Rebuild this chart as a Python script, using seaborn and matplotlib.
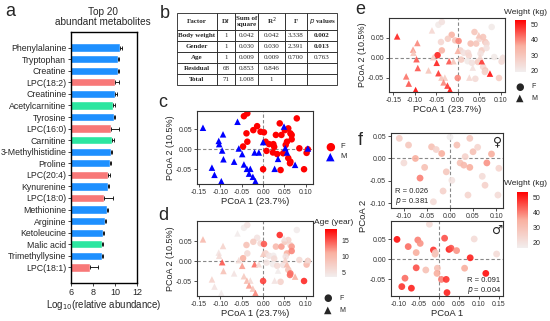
import matplotlib
matplotlib.use("Agg")
import matplotlib.pyplot as plt
import seaborn as sns
import numpy as np
import pandas as pd
from matplotlib.colors import LinearSegmentedColormap, Normalize
from matplotlib.cm import ScalarMappable

# ---- panel a data ----
metabolites = ["Phenylalanine", "Tryptophan", "Creatine", "LPC(18:2)", "Creatinine",
               "Acetylcarnitine", "Tyrosine", "LPC(16:0)", "Carnitine", "3-Methylhistidine",
               "Proline", "LPC(20:4)", "Kynurenine", "LPC(18:0)", "Methionine",
               "Arginine", "Ketoleucine", "Malic acid", "Trimethyllysine", "LPC(18:1)"]
abundance = [10.46, 10.28, 10.28, 9.97, 10.03, 9.85, 9.88, 9.6, 9.75, 9.6,
             9.57, 9.35, 9.35, 8.98, 9.23, 9.08, 8.92, 8.83, 8.83, 7.7]
abundance_err = [0.15, 0.12, 0.12, 0.4, 0.12, 0.12, 0.1, 0.74, 0.12, 0.12,
                 0.1, 0.15, 0.12, 0.86, 0.12, 0.12, 0.12, 0.12, 0.12, 0.74]
met_class = ["aa", "aa", "aa", "lpc", "aa", "car", "aa", "lpc", "car", "aa",
             "aa", "lpc", "aa", "lpc", "aa", "aa", "aa", "car", "aa", "lpc"]

# ---- panel b data ----
tab_cols = ["Factor", "Df", "Sum of\nsquare", "R$^2$", "F", "$\\it{p}$ values"]
tab_factor = ["Body weight", "Gender", "Age", "Residual", "Total"]
tab_df = ["1", "1", "1", "68", "71"]
tab_ss = ["0.042", "0.030", "0.009", "0.853", "1.008"]
tab_r2 = ["0.042", "0.030", "0.009", "0.846", "1"]
tab_f = ["3.338", "2.391", "0.700", "", ""]
tab_p = ["0.002", "0.013", "0.763", "", ""]

# ---- panels c, d, e data (same PCoA, females / males) ----
pc1_f = [-0.045, -0.037, -0.014, -0.023, -0.006, 0.002, -0.039, -0.037, -0.047, 0.006,
         0.014, 0.024, 0.026, 0.039, 0.030, 0.043, 0.051, 0.064, 0.056, 0.053,
         0.023, 0.033, 0.047, 0.059, 0.064, 0.041, 0.0, 0.008, 0.079, 0.059,
         0.067, 0.067, 0.085, 0.105, 0.102, 0.063, 0.096]
pc2_f = [0.083, 0.090, 0.058, 0.048, 0.044, 0.0425, 0.040, 0.019, 0.007, 0.019,
         0.013, 0.013, 0.006, 0.065, 0.036, 0.036, 0.048, 0.040, 0.019, 0.011,
         -0.008, -0.012, -0.010, -0.022, -0.031, -0.052, -0.050, -0.004, 0.0775, 0.0525,
         0.036, 0.025, 0.0025, 0.0, -0.009, -0.035, -0.050]
age_f = [4, 5, 5, 8, 6, 15, 9, 6, 11, 7,
         5, 4, 6, 17, 10, 12, 8, 6, 11, 5,
         4, 6, 5, 9, 14, 7, 16, 5, 4, 7,
         12, 13, 6, 8, 10, 14, 17]
wt_f = [20, 22, 35, 28, 30, 40, 25, 35, 50, 26,
        22, 24, 25, 30, 32, 30, 25, 30, 28, 22,
        20, 22, 28, 25, 30, 24, 40, 28, 20, 30,
        25, 22, 20, 22, 24, 26, 28]

pc1_m = [-0.141, -0.060, -0.094, -0.104, -0.103, -0.096, -0.093, -0.057, -0.049, -0.068,
         -0.020, -0.010, 0.0, -0.120, -0.114, -0.098, -0.045, -0.038, -0.030, -0.033,
         -0.024, -0.018, 0.027, 0.035, 0.049, 0.056, 0.075, 0.105, 0.052]
pc2_m = [0.054, 0.069, 0.0375, 0.021, 0.013, -0.003, -0.025, 0.002, -0.012, -0.031,
         -0.008, -0.008, 0.018, -0.046, -0.064, -0.080, -0.038, -0.049, -0.049, -0.061,
         -0.069, -0.080, -0.049, -0.024, 0.057, -0.008, -0.039, 0.002, 0.003]
age_m = [10, 4, 7, 5, 6, 15, 9, 6, 12, 5,
         14, 6, 8, 7, 5, 4, 8, 10, 6, 12,
         9, 13, 5, 4, 5, 10, 11, 6, 7]
wt_m = [50, 25, 40, 38, 30, 45, 45, 28, 50, 30,
        45, 30, 35, 42, 45, 52, 48, 30, 28, 40,
        48, 52, 25, 22, 30, 48, 52, 22, 25]

# ---- panel f data (separate PCoA per sex) ----
f_pc1_f = [-0.040, -0.018, 0.0, 0.043, 0.033, 0.050, -0.036, -0.015, 0.004, 0.076,
           0.104, 0.039, 0.022, 0.030, 0.043, 0.080, 0.106, -0.065, -0.090, -0.100,
           -0.075, -0.055, -0.030, -0.008, 0.015, 0.060, 0.090, -0.110, 0.070]
f_pc2_f = [0.026, 0.011, 0.048, 0.045, 0.004, 0.015, -0.097, -0.073, -0.049, -0.060,
           -0.082, -0.082, -0.010, -0.015, -0.020, -0.010, -0.022, -0.044, 0.030, -0.010,
           0.000, -0.020, 0.020, -0.030, 0.030, 0.025, 0.010, 0.045, -0.040]
f_wt_f = [30, 35, 15, 28, 25, 30, 22, 25, 20, 25,
          22, 24, 30, 32, 35, 38, 24, 40, 28, 22,
          35, 30, 25, 28, 30, 24, 35, 26, 22]
f_pc1_m = [-0.024, 0.014, 0.088, -0.014, -0.010, -0.009, 0.025, 0.030, 0.044, 0.078,
           0.064, 0.144, 0.117, -0.004, -0.005, 0.006, 0.018, 0.020, -0.033, -0.105,
           -0.077, -0.053, -0.047, -0.057, -0.057, -0.085, -0.093, -0.069]
f_pc2_m = [0.087, 0.052, 0.050, 0.0225, 0.012, 0.016, 0.024, 0.027, 0.021, 0.003,
           -0.023, 0.0125, -0.036, -0.023, -0.036, -0.051, -0.051, -0.084, -0.0275, 0.049,
           0.031, 0.0475, 0.039, 0.016, -0.022, -0.048, -0.069, -0.073]
f_wt_m = [22, 45, 22, 48, 30, 28, 50, 45, 38, 50,
          35, 22, 52, 30, 35, 40, 48, 50, 30, 52,
          42, 40, 38, 35, 45, 42, 48, 50]

W, H = 550, 321
sns.set_style("ticks")
plt.rcParams['font.family'] = ['Liberation Sans', 'DejaVu Sans']
plt.rcParams['axes.linewidth'] = 0.7
plt.rcParams['xtick.major.width'] = 0.6
plt.rcParams['ytick.major.width'] = 0.6
plt.rcParams['xtick.major.size'] = 2
plt.rcParams['ytick.major.size'] = 2
plt.rcParams['xtick.major.pad'] = 1.5
plt.rcParams['ytick.major.pad'] = 1.5

fig = plt.figure(figsize=(W / 100, H / 100), dpi=100)
fig.patch.set_facecolor("white")


def px_axes(l, t, r, b):
    return fig.add_axes([l / W, 1 - b / H, (r - l) / W, (b - t) / H])


def letter(x, y, s):
    fig.text(x / W, 1 - y / H, s, fontsize=13, ha="center", va="center")


# ---------------- a: bar chart ----------------
ax = px_axes(71, 32, 137, 283)
bar_df = pd.DataFrame({"name": metabolites, "value": abundance, "err": abundance_err, "cls": met_class})
pal = {"aa": "#1E90FF", "lpc": "#F87878", "car": "#2CE6A0"}
sns.barplot(data=bar_df, x="value", y="name", hue="cls", palette=pal, dodge=False,
            width=0.72, legend=False, ax=ax, saturation=1)
ax.errorbar(bar_df["value"], np.arange(len(bar_df)), xerr=[np.zeros(len(bar_df)), bar_df["err"]],
            fmt="none", ecolor="black", elinewidth=0.6, capsize=1.5, capthick=0.6)
ax.set_xlim(6, 12)
ax.set_xticks([6, 8, 10, 12])
ax.set_ylabel("")
ax.set_xlabel("Log$_{10}$(relative abundance)", fontsize=7, labelpad=1)
ax.tick_params(axis="y", labelsize=6.3)
ax.tick_params(axis="x", labelsize=6.5)
for sp in ax.spines.values():
    sp.set_visible(True)
    sp.set_color("black")
    sp.set_linewidth(1.0)
fig.text(103 / W, 1 - 17 / H, "Top 20\nabundant metabolites", fontsize=7.2, ha="center", va="center",
         linespacing=1.1)
letter(10, 12, "a")

# ---------------- b: table ----------------
tax = px_axes(177, 13, 337, 85)
tax.axis("off")
cell_text = [list(r) for r in zip(tab_factor, tab_df, tab_ss, tab_r2, tab_f, tab_p)]
tbl = tax.table(cellText=cell_text, colLabels=tab_cols, bbox=[0, 0, 1, 1],
                colWidths=[40, 18, 23, 27, 22, 30], cellLoc="center")
tbl.auto_set_font_size(False)
for (r, c), cell in tbl.get_celld().items():
    cell.set_linewidth(0.6)
    cell.set_edgecolor("#222222")
    cell.set_height(17 if r == 0 else 11)
    cell.get_text().set_fontfamily("Liberation Serif")
    cell.get_text().set_fontsize(5)
    if r == 0 or c == 0 or (c == 5 and r in (1, 2)):
        cell.get_text().set_fontweight("bold")
letter(165, 13, "b")

# ---------------- c, d, e: shared PCoA ----------------
pcoa = pd.DataFrame({
    "pc1": pc1_f + pc1_m,
    "pc2": pc2_f + pc2_m,
    "sex": ["F"] * len(pc1_f) + ["M"] * len(pc1_m),
    "age": age_f + age_m,
    "weight": wt_f + wt_m,
})
cmap = LinearSegmentedColormap.from_list("wr", ["#F2EEEE", "#F9B0A0", "#FF0000"])
markers = {"F": "o", "M": "^"}


def style_pcoa(a, xlim, ylim, xt, yt, xlabel, ylabel):
    a.axhline(0, color="#888888", lw=0.8, ls=(0, (3, 2)), zorder=0)
    a.axvline(0, color="#888888", lw=0.8, ls=(0, (3, 2)), zorder=0)
    a.set_xlim(*xlim)
    a.set_ylim(*ylim)
    a.set_xticks(xt)
    a.set_yticks(yt)
    a.set_xticklabels(["%.2f" % v for v in xt])
    a.set_yticklabels(["%.2f" % v for v in yt])
    a.tick_params(labelsize=5, colors="#333333")
    a.set_xlabel(xlabel, fontsize=6.8, labelpad=1)
    a.set_ylabel(ylabel, fontsize=6.5, labelpad=1)
    for sp in a.spines.values():
        sp.set_visible(True)
        sp.set_color("#333333")
        sp.set_linewidth(0.8)


xt_cd = [-0.15, -0.10, -0.05, 0.00, 0.05, 0.10]
yt_cd = [-0.05, 0.00, 0.05]

ax_c = px_axes(197, 111, 313, 184)
sns.scatterplot(data=pcoa, x="pc1", y="pc2", hue="sex", style="sex", markers=markers,
                palette={"F": "#FF0000", "M": "#0000FF"}, s=22, linewidth=0, legend=False, ax=ax_c)
style_pcoa(ax_c, (-0.155, 0.117), (-0.087, 0.096), xt_cd, yt_cd, "PCoA 1 (23.7%)", "PCoA 2 (10.5%)")
letter(163, 103, "c")
fig.text(330 / W, 1 - 147 / H, "\u25CF", color="#FF0000", fontsize=8, ha="center", va="center",
         family=["DejaVu Sans"])
fig.text(330 / W, 1 - 157 / H, "\u25B2", color="#0000FF", fontsize=8, ha="center", va="center",
         family=["DejaVu Sans"])
fig.text(340 / W, 1 - 147 / H, "F", fontsize=5.5, ha="left", va="center")
fig.text(340 / W, 1 - 157 / H, "M", fontsize=5.5, ha="left", va="center")

ax_d = px_axes(197, 221, 313, 296)
sns.scatterplot(data=pcoa, x="pc1", y="pc2", hue="age", style="sex", markers=markers,
                palette=cmap, hue_norm=(3.7, 18.7), s=22, linewidth=0, alpha=0.9, legend=False, ax=ax_d)
style_pcoa(ax_d, (-0.155, 0.117), (-0.0875, 0.1), xt_cd, yt_cd, "PCoA 1 (23.7%)", "PCoA 2 (10.5%)")
letter(163, 215, "d")

ax_e = px_axes(389, 18, 505, 92)
sns.scatterplot(data=pcoa, x="pc1", y="pc2", hue="weight", style="sex", markers=markers,
                palette=cmap, hue_norm=(18.7, 53.3), s=22, linewidth=0, alpha=0.9, legend=False, ax=ax_e)
style_pcoa(ax_e, (-0.16, 0.11), (-0.085, 0.10), xt_cd, yt_cd, "PCoA 1 (23.7%)", "PCoA 2 (10.5%)")
letter(360, 10, "e")


def colorbar(l, t, r, b, vmin, vmax, ticks, title, tx, ty):
    cax = px_axes(l, t, r, b)
    cb = fig.colorbar(ScalarMappable(Normalize(vmin, vmax), cmap), cax=cax, ticks=ticks)
    cb.outline.set_visible(False)
    cax.tick_params(labelsize=5, length=2, color="white", width=0.6)
    fig.text(tx / W, 1 - ty / H, title, fontsize=6, ha="center", va="center")


def shape_legend(x, y1, y2):
    fig.text(x / W, 1 - y1 / H, "\u25CF", fontsize=7, ha="center", va="center", family=["DejaVu Sans"])
    fig.text(x / W, 1 - y2 / H, "\u25B2", fontsize=7, ha="center", va="center", family=["DejaVu Sans"])
    fig.text((x + 11) / W, 1 - y1 / H, "F", fontsize=5, ha="left", va="center")
    fig.text((x + 11) / W, 1 - y2 / H, "M", fontsize=5, ha="left", va="center")


colorbar(325, 229, 337, 277, 3.7, 18.7, [5, 10, 15], "Age (year)", 334, 222)
shape_legend(328, 298, 310)
colorbar(515, 20, 526, 72, 18.7, 53.3, [20, 30, 40, 50], "Weight (kg)", 526, 12)
shape_legend(520, 87, 98)

# ---------------- f: per-sex PCoA ----------------
ax_f1 = px_axes(391, 133, 503, 208)
fem = pd.DataFrame({"pc1": f_pc1_f, "pc2": f_pc2_f, "weight": f_wt_f})
sns.scatterplot(data=fem, x="pc1", y="pc2", hue="weight", palette=cmap, hue_norm=(16.7, 53.3),
                s=24, linewidth=0, alpha=0.9, legend=False, ax=ax_f1)
style_pcoa(ax_f1, (-0.128, 0.115), (-0.111, 0.057), [-0.10, -0.05, 0.00, 0.05, 0.10],
           [-0.10, -0.05, 0.00, 0.05], "", "")
ax_f1.text(0.04, 0.22, "R = 0.026", transform=ax_f1.transAxes, fontsize=5.5, ha="left", va="center")
ax_f1.text(0.04, 0.09, "$\\it{p}$ = 0.381", transform=ax_f1.transAxes, fontsize=5.5, ha="left", va="center")
ax_f1.text(0.95, 0.88, "\u2640", transform=ax_f1.transAxes, fontsize=9, ha="center", va="center",
           family=["DejaVu Sans"])

ax_f2 = px_axes(391, 221, 503, 296)
mal = pd.DataFrame({"pc1": f_pc1_m, "pc2": f_pc2_m, "weight": f_wt_m})
sns.scatterplot(data=mal, x="pc1", y="pc2", hue="weight", palette=cmap, hue_norm=(16.7, 53.3),
                s=24, linewidth=0, alpha=0.9, legend=False, ax=ax_f2)
style_pcoa(ax_f2, (-0.12, 0.16), (-0.0925, 0.095), [-0.10, -0.05, 0.00, 0.05, 0.10, 0.15],
           [-0.05, 0.00, 0.05], "PCoA 1", "")
ax_f2.text(0.68, 0.2, "R = 0.091", transform=ax_f2.transAxes, fontsize=5.5, ha="left", va="center")
ax_f2.text(0.68, 0.07, "$\\it{p}$ = 0.004", transform=ax_f2.transAxes, fontsize=5.5, ha="left", va="center")
ax_f2.text(0.95, 0.88, "\u2642", transform=ax_f2.transAxes, fontsize=9, ha="center", va="center",
           family=["DejaVu Sans"])
fig.text(364 / W, 1 - 216 / H, "PCoA 2", fontsize=6.8, rotation=90, ha="center", va="center")
colorbar(517, 192, 528, 248, 16.7, 53.3, [20, 30, 40, 50], "Weight (kg)", 526, 184)
letter(360, 140, "f")

fig.savefig("out.png", dpi=100, facecolor="white")
